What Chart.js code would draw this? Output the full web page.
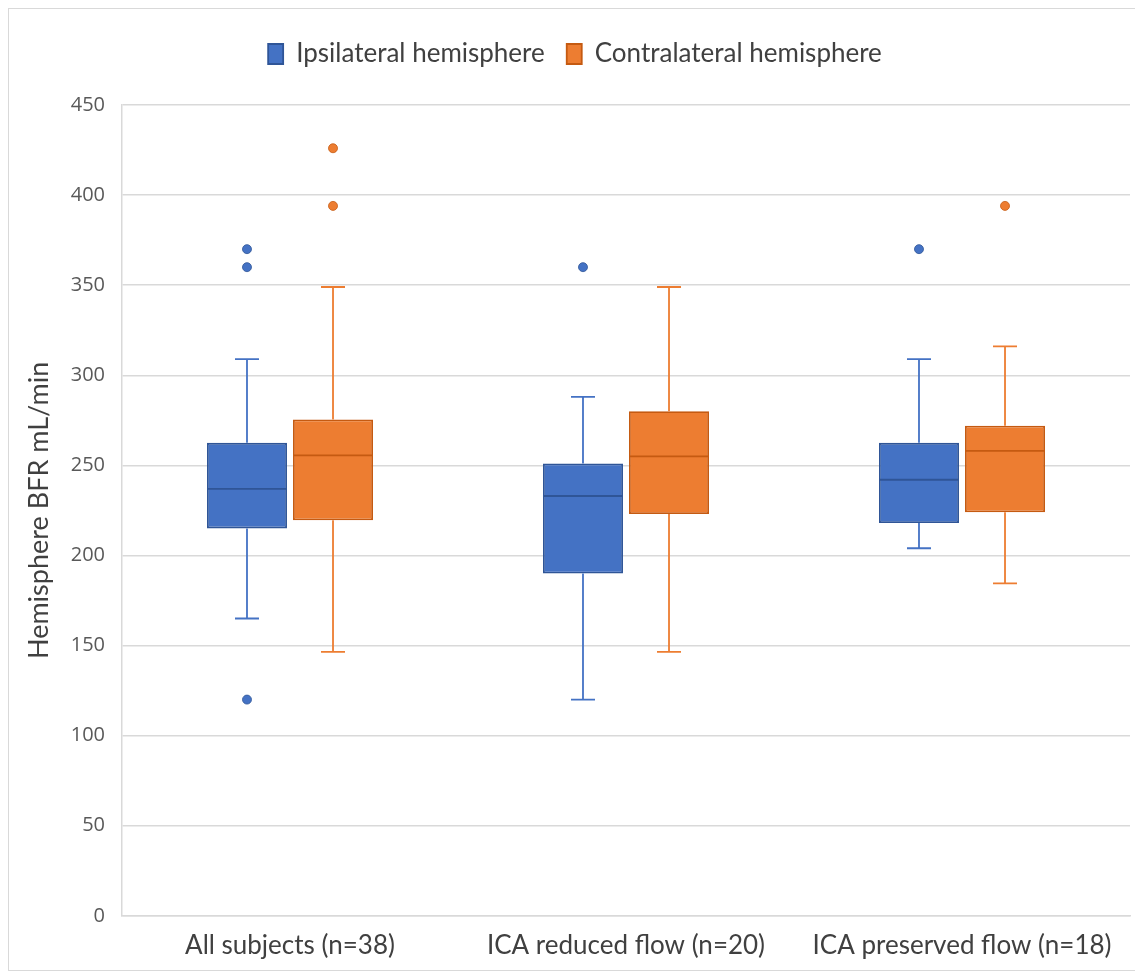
<!DOCTYPE html>
<html>
<head>
<meta charset="utf-8">
<script src="https://cdn.jsdelivr.net/npm/chart.js@4"></script>
<style>
  html, body { margin: 0; padding: 0; background: #fff; }
  #wrap { width: 1135px; height: 975px; }
</style>
</head>
<body>
<div id="wrap"><canvas id="chart" width="1135" height="975"></canvas></div>
<script>
// categories and series
const groups = ["All subjects (n=38)", "ICA reduced flow (n=20)", "ICA preserved flow (n=18)"];
const seriesNames = ["Ipsilateral hemisphere", "Contralateral hemisphere"];

// five-number summaries, one entry per group
const ipsiMin    = [165, 120, 204];
const ipsiQ1     = [215, 190, 218];
const ipsiMedian = [237, 233, 242];
const ipsiQ3     = [262.5, 251, 262.5];
const ipsiMax    = [309, 288, 309];
const ipsiOutliers = [[370, 360, 120], [360], [370]];

const contraMin    = [146.5, 146.5, 184.5];
const contraQ1     = [219.5, 223, 224];
const contraMedian = [255.5, 255, 258];
const contraQ3     = [275.5, 280, 272];
const contraMax    = [349, 349, 316];
const contraOutliers = [[426, 394], [], [394]];

const yTicks = [0, 50, 100, 150, 200, 250, 300, 350, 400, 450];

const blue = "#4472C4", blueDark = "#2F5597";
const orange = "#ED7D31", orangeDark = "#C55A11";

function boxes(q1, q3) {
  return q1.map((v, i) => [v, q3[i]]);
}

const summaries = [
  { min: ipsiMin, med: ipsiMedian, max: ipsiMax, out: ipsiOutliers, line: blue, dark: blueDark },
  { min: contraMin, med: contraMedian, max: contraMax, out: contraOutliers, line: orange, dark: orangeDark }
];

// draws whiskers, medians and outliers on top of the floating bars
const boxExtras = {
  id: "boxExtras",
  afterDatasetsDraw(chart) {
    const ctx = chart.ctx;
    const y = chart.scales.y;
    chart.data.datasets.forEach((ds, di) => {
      const s = summaries[di];
      chart.getDatasetMeta(di).data.forEach((bar, i) => {
        const x = bar.x, w = bar.width;
        const top = Math.min(bar.y, bar.base), bot = Math.max(bar.y, bar.base);
        const cap = w * 0.15;
        const yMax = y.getPixelForValue(s.max[i]), yMin = y.getPixelForValue(s.min[i]);
        ctx.save();
        ctx.strokeStyle = s.line;
        ctx.lineWidth = 1.8;
        ctx.beginPath();
        ctx.moveTo(x, top); ctx.lineTo(x, yMax);
        ctx.moveTo(x - cap, yMax); ctx.lineTo(x + cap, yMax);
        ctx.moveTo(x, bot); ctx.lineTo(x, yMin);
        ctx.moveTo(x - cap, yMin); ctx.lineTo(x + cap, yMin);
        ctx.stroke();
        ctx.strokeStyle = s.dark;
        ctx.lineWidth = 1.8;
        ctx.beginPath();
        ctx.moveTo(x - w / 2, y.getPixelForValue(s.med[i]));
        ctx.lineTo(x + w / 2, y.getPixelForValue(s.med[i]));
        ctx.stroke();
        ctx.fillStyle = s.line;
        ctx.strokeStyle = s.dark;
        ctx.lineWidth = 0.8;
        s.out[i].forEach(v => {
          ctx.beginPath();
          ctx.arc(x, y.getPixelForValue(v), 4.5, 0, Math.PI * 2);
          ctx.fill();
          ctx.stroke();
        });
        ctx.restore();
      });
    });
  }
};

const background = {
  id: "background",
  beforeDraw(chart) {
    const ctx = chart.ctx;
    ctx.save();
    ctx.fillStyle = "#fff";
    ctx.fillRect(0, 0, chart.width, chart.height);
    ctx.strokeStyle = "#d9d9d9";
    ctx.lineWidth = 1;
    ctx.strokeRect(8.5, 8.5, chart.width - 8, chart.height - 13);
    ctx.restore();
  }
};

// extra room under the legend, as in the reference
const legendSpacer = {
  id: "legendSpacer",
  beforeInit(chart) {
    const fit = chart.legend.fit;
    chart.legend.fit = function () {
      fit.call(this);
      this.height += 28;
    };
  }
};

new Chart(document.getElementById("chart"), {
  type: "bar",
  data: {
    labels: groups,
    datasets: [
      {
        label: seriesNames[0],
        data: boxes(ipsiQ1, ipsiQ3),
        backgroundColor: blue,
        borderColor: blueDark,
        borderWidth: 1.8,
        borderSkipped: false
      },
      {
        label: seriesNames[1],
        data: boxes(contraQ1, contraQ3),
        backgroundColor: orange,
        borderColor: orangeDark,
        borderWidth: 1.8,
        borderSkipped: false
      }
    ]
  },
  options: {
    responsive: false,
    animation: false,
    devicePixelRatio: 1,
    categoryPercentage: 0.512,
    barPercentage: 0.93,
    layout: { padding: { left: 20, right: 5, top: 19, bottom: 8 } },
    plugins: {
      tooltip: { enabled: false },
      legend: {
        position: "top",
        labels: {
          font: { family: "Lato", size: 26 },
          color: "#404040",
          boxWidth: 15,
          boxHeight: 20,
          padding: 22
        }
      }
    },
    scales: {
      x: {
        grid: { display: false },
        border: { color: "#d9d9d9", width: 1.5 },
        ticks: {
          font: { family: "Lato", size: 26 },
          color: "#404040",
          padding: 6
        }
      },
      y: {
        min: 0,
        max: 450,
        afterBuildTicks(scale) { scale.ticks = yTicks.map(v => ({ value: v })); },
        afterFit(scale) { scale.width = 102; },
        grid: { color: "#d9d9d9", lineWidth: 1.5, drawTicks: false },
        border: { color: "#d9d9d9", width: 1.5 },
        ticks: {
          font: { family: "Open Sans", size: 20 },
          color: "#595959",
          padding: 17
        },
        title: {
          display: true,
          text: "Hemisphere BFR mL/min",
          font: { family: "Lato", size: 27 },
          color: "#404040",
          padding: { top: 3, bottom: 0 }
        }
      }
    }
  },
  plugins: [background, legendSpacer, boxExtras]
});
</script>
</body>
</html>
